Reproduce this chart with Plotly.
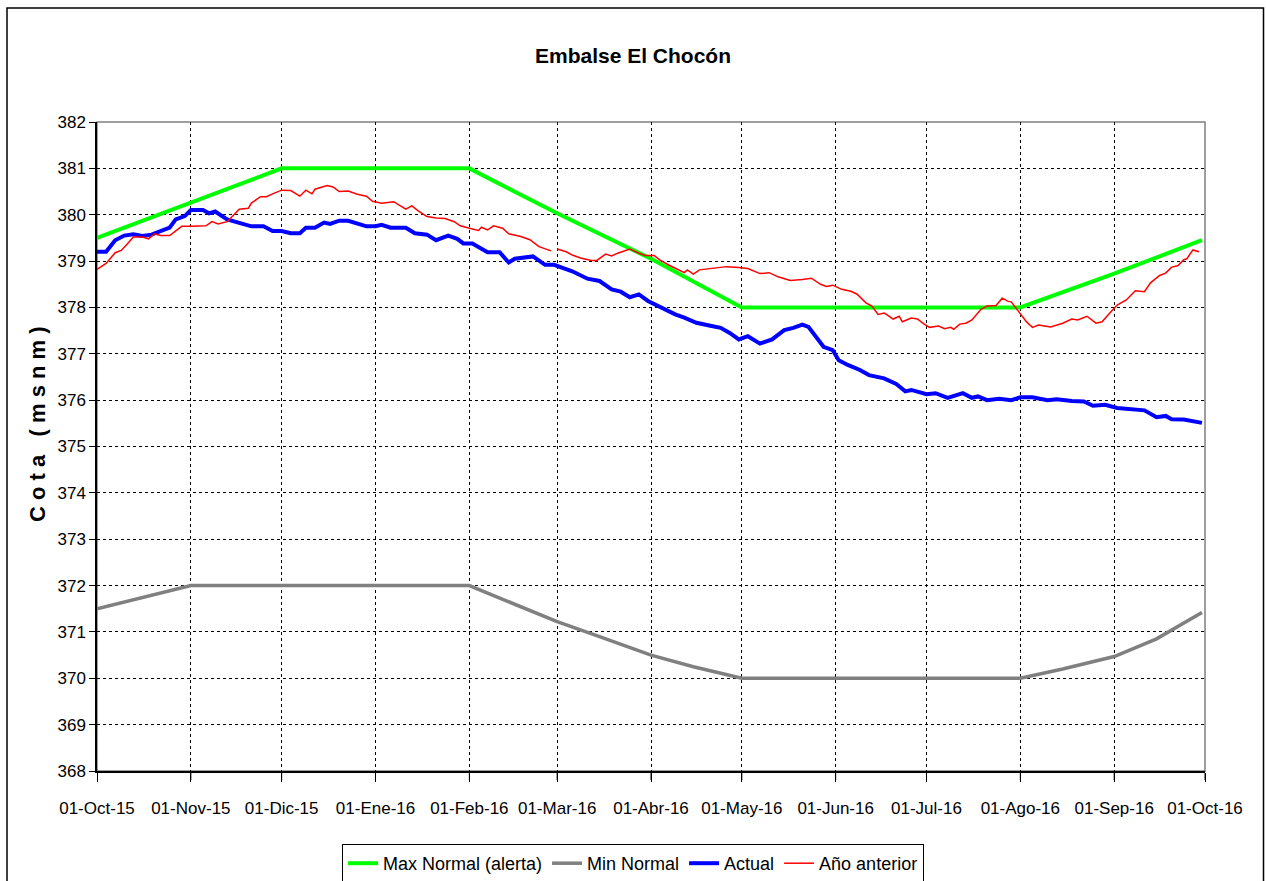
import plotly.graph_objects as go

# ---------------- data ----------------
month_ticks = ["2015-10-01", "2015-11-01", "2015-12-01", "2016-01-01", "2016-02-01",
               "2016-03-01", "2016-04-01", "2016-05-01", "2016-06-01", "2016-07-01",
               "2016-08-01", "2016-09-01", "2016-10-01"]
tick_labels = ["01-Oct-15", "01-Nov-15", "01-Dic-15", "01-Ene-16", "01-Feb-16",
               "01-Mar-16", "01-Abr-16", "01-May-16", "01-Jun-16", "01-Jul-16",
               "01-Ago-16", "01-Sep-16", "01-Oct-16"]

max_dates = ["2015-10-01", "2015-12-01", "2016-02-01", "2016-03-01", "2016-04-01",
             "2016-05-01", "2016-08-01", "2016-09-01", "2016-09-30"]
max_values = [379.50, 381.00, 381.00, 380.03, 379.05, 378.00, 378.00, 378.73, 379.45]

min_dates = ["2015-10-01", "2015-11-01", "2016-02-01", "2016-02-15", "2016-03-01",
             "2016-03-15", "2016-04-01", "2016-04-15", "2016-05-01", "2016-08-01",
             "2016-08-15", "2016-09-01", "2016-09-15", "2016-09-30"]
min_values = [371.50, 372.00, 372.00, 371.62, 371.22, 370.90, 370.50, 370.25, 370.00,
              370.00, 370.20, 370.47, 370.85, 371.42]

actual_dates = [
    "2015-10-01", "2015-10-04", "2015-10-07", "2015-10-10", "2015-10-13", "2015-10-16",
    "2015-10-19", "2015-10-22", "2015-10-25", "2015-10-27", "2015-10-30", "2015-11-01",
    "2015-11-05", "2015-11-07", "2015-11-09", "2015-11-13", "2015-11-17", "2015-11-21",
    "2015-11-25", "2015-11-28", "2015-12-01", "2015-12-04", "2015-12-07", "2015-12-09",
    "2015-12-12", "2015-12-15", "2015-12-17", "2015-12-20", "2015-12-23", "2015-12-26",
    "2015-12-29", "2016-01-01", "2016-01-03", "2016-01-06", "2016-01-11", "2016-01-14",
    "2016-01-18", "2016-01-21", "2016-01-25", "2016-01-28", "2016-01-30", "2016-02-02",
    "2016-02-05", "2016-02-07", "2016-02-11", "2016-02-14", "2016-02-16", "2016-02-19",
    "2016-02-22", "2016-02-26", "2016-02-29", "2016-03-03", "2016-03-06", "2016-03-11",
    "2016-03-15", "2016-03-19", "2016-03-22", "2016-03-25", "2016-03-28", "2016-03-31",
    "2016-04-02", "2016-04-05", "2016-04-09", "2016-04-12", "2016-04-16", "2016-04-21",
    "2016-04-24", "2016-04-27", "2016-04-30", "2016-05-03", "2016-05-07", "2016-05-11",
    "2016-05-15", "2016-05-18", "2016-05-21", "2016-05-23", "2016-05-25", "2016-05-28",
    "2016-05-31", "2016-06-02", "2016-06-05", "2016-06-09", "2016-06-12", "2016-06-17",
    "2016-06-21", "2016-06-24", "2016-06-26", "2016-07-01", "2016-07-04", "2016-07-08",
    "2016-07-13", "2016-07-16", "2016-07-18", "2016-07-21", "2016-07-25", "2016-07-29",
    "2016-08-01", "2016-08-05", "2016-08-10", "2016-08-13", "2016-08-18", "2016-08-22",
    "2016-08-25", "2016-08-29", "2016-09-02", "2016-09-06", "2016-09-11", "2016-09-15",
    "2016-09-18", "2016-09-20", "2016-09-24", "2016-09-30"]
actual_values = [
    379.20, 379.20, 379.45, 379.55, 379.58, 379.54,
    379.57, 379.65, 379.72, 379.90, 379.97, 380.10,
    380.10, 380.03, 380.07, 379.90, 379.82, 379.75,
    379.75, 379.65, 379.65, 379.60, 379.60, 379.72,
    379.72, 379.83, 379.80, 379.87, 379.87, 379.82,
    379.75, 379.75, 379.78, 379.72, 379.72, 379.60,
    379.57, 379.45, 379.55, 379.48, 379.38, 379.38,
    379.28, 379.19, 379.19, 378.97, 379.05, 379.08,
    379.10, 378.92, 378.92, 378.85, 378.78, 378.62,
    378.57, 378.39, 378.34, 378.22, 378.28, 378.14,
    378.07, 377.98, 377.85, 377.78, 377.67, 377.60,
    377.56, 377.45, 377.31, 377.38, 377.22, 377.31,
    377.51, 377.56, 377.63, 377.58, 377.40, 377.15,
    377.08, 376.86, 376.76, 376.65, 376.54, 376.47,
    376.35, 376.19, 376.22, 376.13, 376.15, 376.05,
    376.15, 376.05, 376.08, 376.00, 376.03, 376.00,
    376.06, 376.06, 376.00, 376.02, 375.98, 375.97,
    375.88, 375.90, 375.83, 375.80, 375.78, 375.63,
    375.66, 375.59, 375.58, 375.51]

prev_dates = [
    "2015-10-01", "2015-10-04", "2015-10-07", "2015-10-09", "2015-10-11", "2015-10-13",
    "2015-10-16", "2015-10-18", "2015-10-20", "2015-10-22", "2015-10-25", "2015-10-27",
    "2015-10-29", "2015-11-01", "2015-11-06", "2015-11-08", "2015-11-10", "2015-11-13",
    "2015-11-15", "2015-11-17", "2015-11-20", "2015-11-21", "2015-11-24", "2015-11-26",
    "2015-11-28", "2015-12-01", "2015-12-04", "2015-12-06", "2015-12-07", "2015-12-09",
    "2015-12-11", "2015-12-12", "2015-12-16", "2015-12-18", "2015-12-20", "2015-12-23",
    "2015-12-26", "2015-12-29", "2015-12-31", "2016-01-03", "2016-01-07", "2016-01-11",
    "2016-01-13", "2016-01-15", "2016-01-18", "2016-01-21", "2016-01-24", "2016-01-27",
    "2016-01-29", "2016-02-01", "2016-02-04", "2016-02-05", "2016-02-07", "2016-02-09",
    "2016-02-12", "2016-02-14", "2016-02-18", "2016-02-21", "2016-02-24", "2016-02-28",
    "2016-02-29", "2016-03-01", "2016-03-04", "2016-03-06", "2016-03-09", "2016-03-12",
    "2016-03-14", "2016-03-17", "2016-03-19", "2016-03-21", "2016-03-25", "2016-03-28",
    "2016-03-30", "2016-04-02", "2016-04-04", "2016-04-07", "2016-04-10", "2016-04-12",
    "2016-04-13", "2016-04-15", "2016-04-17", "2016-04-21", "2016-04-26", "2016-04-30",
    "2016-05-03", "2016-05-07", "2016-05-10", "2016-05-13", "2016-05-17", "2016-05-21",
    "2016-05-24", "2016-05-27", "2016-05-29", "2016-05-31", "2016-06-03", "2016-06-06",
    "2016-06-08", "2016-06-11", "2016-06-13", "2016-06-15", "2016-06-17", "2016-06-18",
    "2016-06-20", "2016-06-22", "2016-06-23", "2016-06-26", "2016-06-28", "2016-06-30",
    "2016-07-02", "2016-07-05", "2016-07-07", "2016-07-09", "2016-07-10", "2016-07-12",
    "2016-07-14", "2016-07-16", "2016-07-19", "2016-07-21", "2016-07-24", "2016-07-26",
    "2016-07-28", "2016-07-29", "2016-08-01", "2016-08-03", "2016-08-05", "2016-08-07",
    "2016-08-09", "2016-08-11", "2016-08-15", "2016-08-18", "2016-08-20", "2016-08-23",
    "2016-08-26", "2016-08-28", "2016-08-31", "2016-09-02", "2016-09-05", "2016-09-08",
    "2016-09-11", "2016-09-13", "2016-09-16", "2016-09-18", "2016-09-20", "2016-09-22",
    "2016-09-24", "2016-09-25", "2016-09-27", "2016-09-29"]
prev_values = [
    378.82, 378.95, 379.18, 379.23, 379.37, 379.52,
    379.52, 379.48, 379.59, 379.55, 379.55, 379.66,
    379.75, 379.75, 379.76, 379.85, 379.80, 379.85,
    379.99, 380.12, 380.14, 380.25, 380.39, 380.39,
    380.45, 380.53, 380.52, 380.45, 380.40, 380.53,
    380.45, 380.55, 380.63, 380.60, 380.50, 380.51,
    380.44, 380.40, 380.29, 380.25, 380.28, 380.12,
    380.19, 380.09, 379.96, 379.93, 379.92, 379.85,
    379.76, 379.71, 379.66, 379.73, 379.67, 379.76,
    379.71, 379.59, 379.53, 379.46, 379.31, 379.22,
    None, 379.26, 379.20, 379.13, 379.06, 379.02,
    379.01, 379.15, 379.11, 379.17, 379.26, 379.17,
    379.12, 379.12, 379.02, 378.91, 378.81, 378.75,
    378.81, 378.72, 378.81, 378.84, 378.88, 378.86,
    378.84, 378.73, 378.75, 378.66, 378.58, 378.60,
    378.63, 378.50, 378.45, 378.48, 378.39, 378.35,
    378.29, 378.10, 378.03, 377.85, 377.88, 377.84,
    377.75, 377.81, 377.69, 377.77, 377.75, 377.65,
    377.57, 377.60, 377.54, 377.57, 377.53, 377.64,
    377.66, 377.73, 377.96, 378.03, 378.04, 378.20,
    378.13, 378.12, 377.87, 377.69, 377.57, 377.62,
    377.60, 377.58, 377.66, 377.75, 377.73, 377.81,
    377.66, 377.69, 377.91, 378.05, 378.16, 378.36,
    378.34, 378.53, 378.69, 378.74, 378.87, 378.90,
    379.03, 379.05, 379.24, 379.20]

y_title = "C o t a   ( m s n m )"

# ---------------- figure ----------------
FONT = "Liberation Sans, Arial, sans-serif"

fig = go.Figure()
fig.add_trace(go.Scatter(x=max_dates, y=max_values, mode="lines",
                         name="Max Normal (alerta)", line=dict(color="#00FF00", width=4)))
fig.add_trace(go.Scatter(x=min_dates, y=min_values, mode="lines",
                         name="Min Normal", line=dict(color="#808080", width=3.5)))
fig.add_trace(go.Scatter(x=actual_dates, y=actual_values, mode="lines",
                         name="Actual", line=dict(color="#0000FF", width=4)))
fig.add_trace(go.Scatter(x=prev_dates, y=prev_values, mode="lines",
                         name="Año anterior", line=dict(color="#FF0000", width=1.5),
                         connectgaps=False))

# outer chart frame
fig.add_shape(type="rect", xref="paper", yref="paper",
              x0=(7 - 97) / 1108, x1=(1263.5 - 97) / 1108,
              y0=(771 - 900) / 649, y1=(771 - 8) / 649,
              line=dict(color="black", width=1.5), fillcolor="rgba(0,0,0,0)", layer="below")
# plot-area border (gray top/right)
fig.add_shape(type="rect", xref="paper", yref="paper", x0=0, x1=1, y0=0, y1=1,
              line=dict(color="#808080", width=1.5), fillcolor="rgba(0,0,0,0)", layer="below")

# outside tick marks under the date axis, placed through the x axis
for d in month_ticks:
    fig.add_shape(type="line", xref="x", yref="paper", x0=d, x1=d,
                  y0=0, y1=-9 / 649, line=dict(color="black", width=1))

# y-axis title as rotated text
fig.add_annotation(text="<b>" + y_title + "</b>", xref="paper", yref="paper",
                   x=(37 - 97) / 1108, y=(771 - 424) / 649, xanchor="center", yanchor="middle",
                   textangle=-90, showarrow=False,
                   font=dict(family=FONT, size=22, color="black"))

fig.update_layout(
    width=1266, height=881,
    margin=dict(l=97, r=61, t=122, b=110),
    paper_bgcolor="white", plot_bgcolor="white",
    font=dict(family=FONT, size=16, color="black"),
    title=dict(text="<b>Embalse El Chocón</b>", x=0.5, xref="container", xanchor="center",
               y=1 - 56 / 881, yref="container", yanchor="middle",
               font=dict(family=FONT, size=21, color="black")),
    showlegend=True,
    legend=dict(orientation="h", xref="container", yref="container",
                x=0.5, xanchor="center", y=1 - 844 / 881, yanchor="top",
                bordercolor="black", borderwidth=1, bgcolor="white",
                font=dict(family=FONT, size=18, color="black"),
                traceorder="normal"),
)

fig.update_xaxes(
    type="date", range=["2015-10-01", "2016-10-01"],
    tickmode="array", tickvals=month_ticks, ticktext=tick_labels,
    showline=True, linecolor="black", linewidth=1.5,
    ticks="outside", ticklen=9, tickcolor="black", tickwidth=1,
    ticklabelstandoff=12,
    showgrid=True, gridcolor="black", gridwidth=1, griddash="3px,3px",
    zeroline=False, tickfont=dict(family=FONT, size=17, color="black"),
)
fig.update_yaxes(
    range=[368, 382], tickmode="linear", tick0=368, dtick=1,
    showline=True, linecolor="black", linewidth=1.5,
    ticks="outside", ticklen=6, tickcolor="black", tickwidth=1,
    showgrid=True, gridcolor="black", gridwidth=1, griddash="3px,3px",
    zeroline=False, tickfont=dict(family=FONT, size=17, color="black"),
)

fig.write_html("out.html", config={"displayModeBar": False},
               post_script="document.body.style.margin='0';document.body.style.overflow='hidden';")
